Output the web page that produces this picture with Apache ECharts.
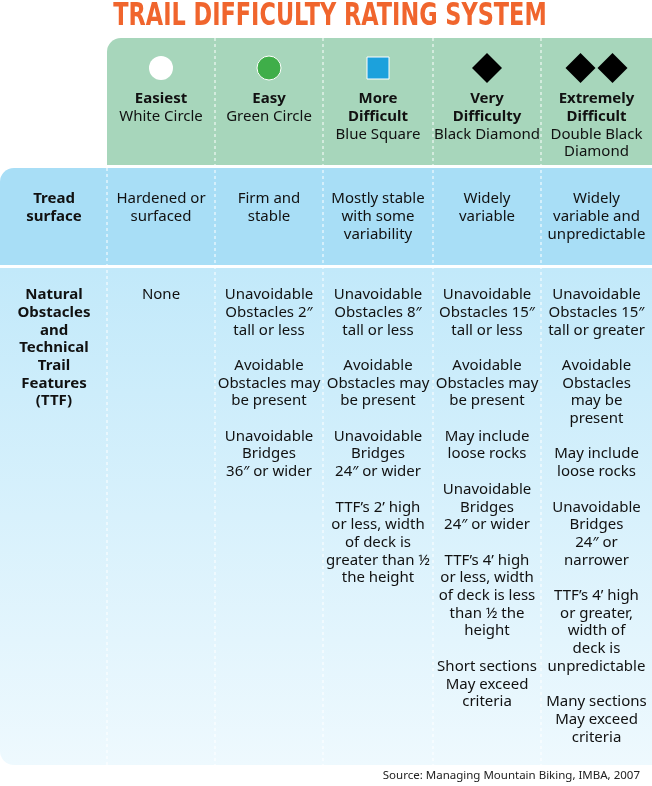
<!DOCTYPE html>
<html>
<head>
<meta charset="utf-8">
<script src="https://cdn.jsdelivr.net/npm/echarts@6/dist/echarts.min.js"></script>
<style>html,body{margin:0;padding:0;background:#fff}#main{width:652px;height:786px}</style>
</head>
<body>
<div id="main"></div>
<script>
var title = 'TRAIL DIFFICULTY RATING SYSTEM';
var ratings = ['Easiest', 'Easy', 'More\nDifficult', 'Very\nDifficulty', 'Extremely\nDifficult'];
var symbols = ['White Circle', 'Green Circle', 'Blue Square', 'Black Diamond', 'Double Black\nDiamond'];
var rowLabels = ['Tread\nsurface', 'Natural\nObstacles\nand\nTechnical\nTrail\nFeatures\n(TTF)'];
var tread = ['Hardened or\nsurfaced', 'Firm and\nstable', 'Mostly stable\nwith some\nvariability', 'Widely\nvariable', 'Widely\nvariable and\nunpredictable'];
var obstacles = [
  'None',
  'Unavoidable\nObstacles 2″\ntall or less\n\nAvoidable\nObstacles may\nbe present\n\nUnavoidable\nBridges\n36″ or wider',
  'Unavoidable\nObstacles 8″\ntall or less\n\nAvoidable\nObstacles may\nbe present\n\nUnavoidable\nBridges\n24″ or wider\n\nTTF’s 2’ high\nor less, width\nof deck is\ngreater than ½\nthe height',
  'Unavoidable\nObstacles 15″\ntall or less\n\nAvoidable\nObstacles may\nbe present\n\nMay include\nloose rocks\n\nUnavoidable\nBridges\n24″ or wider\n\nTTF’s 4’ high\nor less, width\nof deck is less\nthan ½ the\nheight\n\nShort sections\nMay exceed\ncriteria',
  'Unavoidable\nObstacles 15″\ntall or greater\n\nAvoidable\nObstacles\nmay be\npresent\n\nMay include\nloose rocks\n\nUnavoidable\nBridges\n24″ or\nnarrower\n\nTTF’s 4’ high\nor greater,\nwidth of\ndeck is\nunpredictable\n\nMany sections\nMay exceed\ncriteria'
];
var source = 'Source: Managing Mountain Biking, IMBA, 2007';

var colX = [107, 215, 323, 433, 541, 652];
var font = 'Noto Sans';
var fs = 15, lh = 17.7;
var els = [];

// backgrounds
els.push({type: 'rect', shape: {x: 107, y: 38, width: 545, height: 127, r: [14, 0, 0, 0]}, style: {fill: '#a7d6bb'}});
els.push({type: 'rect', shape: {x: 0, y: 168, width: 652, height: 97, r: [14, 0, 0, 0]}, style: {fill: '#a8def6'}});
els.push({type: 'rect', shape: {x: 0, y: 268, width: 652, height: 497, r: [0, 0, 0, 14]},
  style: {fill: new echarts.graphic.LinearGradient(0, 0, 0, 1, [{offset: 0, color: '#c2e9fa'}, {offset: 1, color: '#eef9fe'}])}});

// dashed separators
for (var i = 0; i < 5; i++) {
  var x = colX[i];
  els.push({type: 'line', shape: {x1: x, y1: i === 0 ? 168 : 38, x2: x, y2: 765},
    style: {stroke: '#ffffff', lineWidth: 1, lineDash: [3, 3]}});
}

// icons
var iconY = 68;
function cx(i) { return (colX[i] + colX[i + 1]) / 2; }
els.push({type: 'circle', shape: {cx: cx(0), cy: iconY, r: 12}, style: {fill: '#ffffff'}});
els.push({type: 'circle', shape: {cx: cx(1), cy: iconY, r: 12}, style: {fill: '#3fae49', stroke: '#ffffff', lineWidth: 1}});
els.push({type: 'rect', shape: {x: cx(2) - 11, y: iconY - 11, width: 22, height: 22}, style: {fill: '#1ca1dc', stroke: '#ffffff', lineWidth: 1}});
function diamond(x, y) {
  els.push({type: 'polygon', shape: {points: [[x, y - 15], [x + 15, y], [x, y + 15], [x - 15, y]]}, style: {fill: '#000000'}});
}
diamond(cx(3), iconY);
diamond(cx(4) - 16, iconY);
diamond(cx(4) + 16, iconY);

// header text
for (var j = 0; j < 5; j++) {
  els.push({type: 'text', x: cx(j), y: 90, style: {
    text: '{b|' + ratings[j].split('\n').join('}\n{b|') + '}\n{n|' + symbols[j].split('\n').join('}\n{n|') + '}',
    align: 'center', verticalAlign: 'top', fill: '#222',
    rich: {b: {fontFamily: font, fontWeight: 'bold', fontSize: fs, lineHeight: lh, fill: '#111', align: 'center'},
           n: {fontFamily: font, fontSize: fs, lineHeight: lh, fill: '#111', align: 'center'}}
  }});
}

// row labels
var rowY = [190, 286];
rowLabels.forEach(function (t, k) {
  els.push({type: 'text', x: 54, y: rowY[k], style: {text: t, align: 'center', verticalAlign: 'top',
    fontFamily: font, fontWeight: 'bold', fontSize: fs, lineHeight: lh, fill: '#111'}});
});

// body cells
function cells(arr, y) {
  arr.forEach(function (t, k) {
    els.push({type: 'text', x: cx(k), y: y, style: {text: t, align: 'center', verticalAlign: 'top',
      fontFamily: font, fontSize: fs, lineHeight: lh, fill: '#111'}});
  });
}
cells(tread, 190);
cells(obstacles, 286);

// title and source
els.push({type: 'text', x: 330, y: 1, scaleX: 0.7, originX: 0, style: {text: title, align: 'center', verticalAlign: 'top',
  fontFamily: 'DejaVu Sans', fontWeight: 'bold', fontSize: 32, fill: '#f0652d'}});
els.push({type: 'text', x: 640, y: 770, style: {text: source, align: 'right', verticalAlign: 'top',
  fontFamily: font, fontSize: 11.5, fill: '#222'}});

var chart = echarts.init(document.getElementById('main'));
chart.setOption({animation: false, graphic: {elements: els}});
</script>
</body>
</html>
